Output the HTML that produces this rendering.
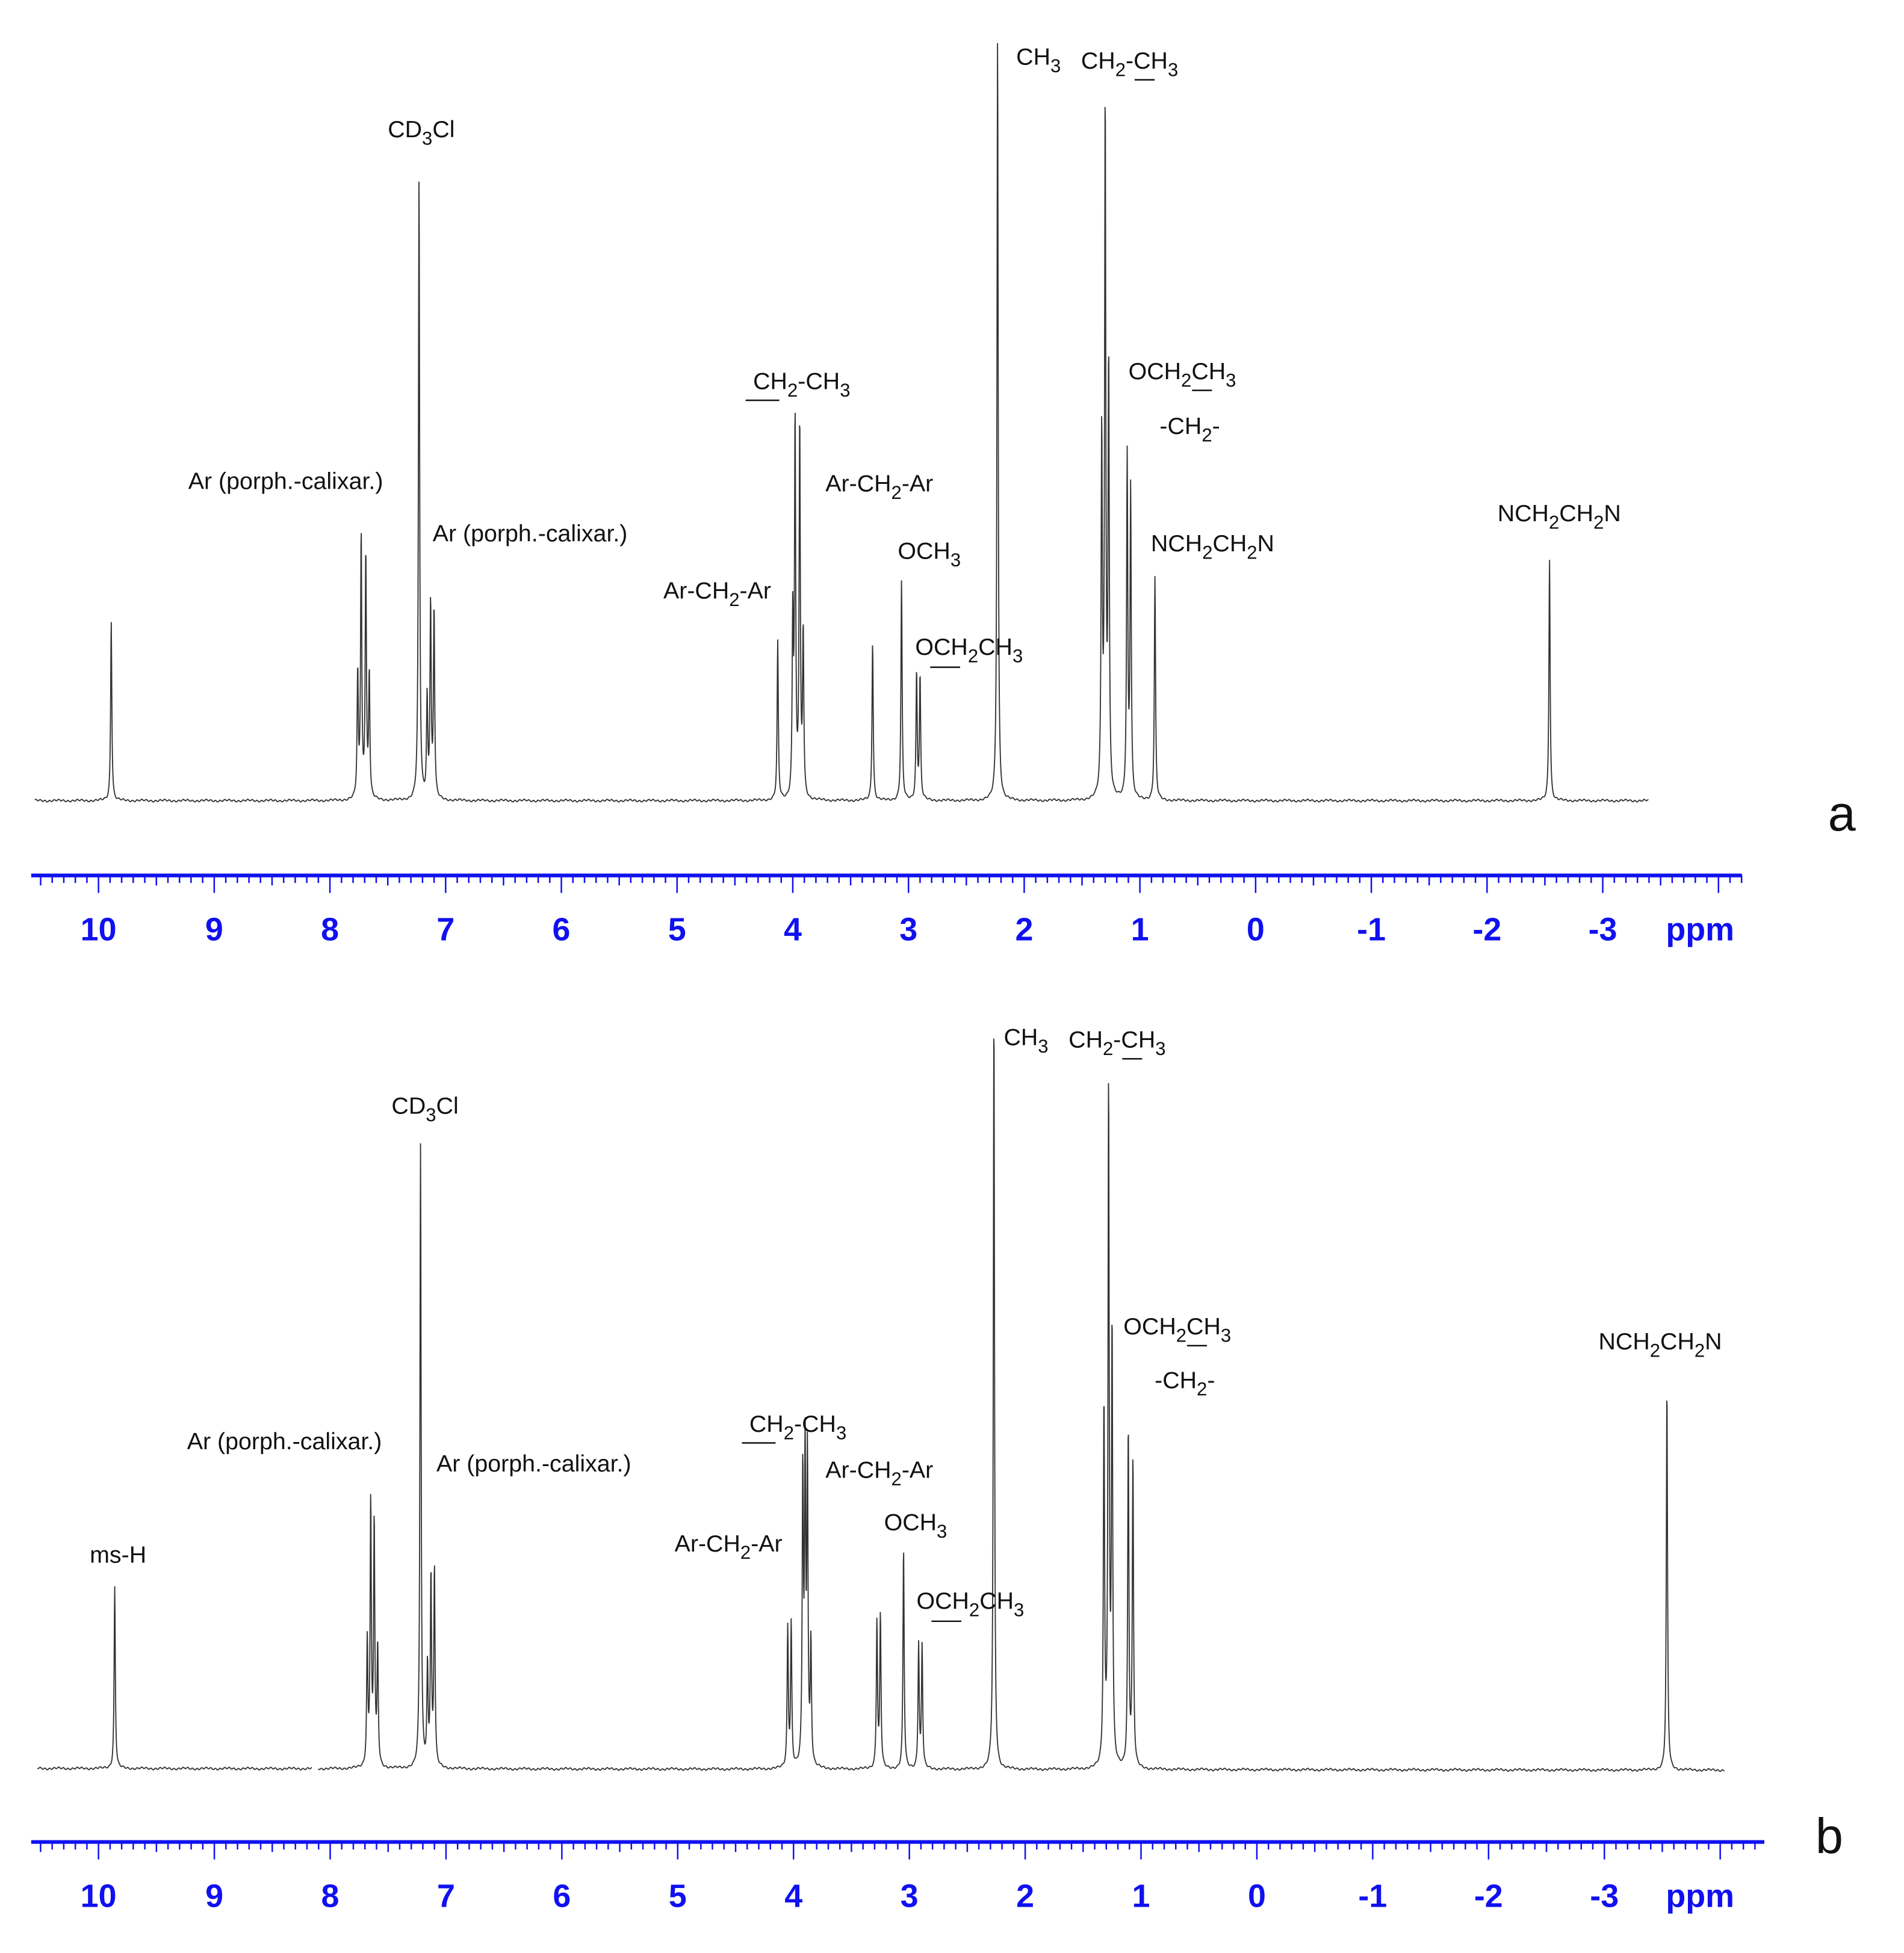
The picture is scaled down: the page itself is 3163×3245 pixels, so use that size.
<!DOCTYPE html>
<html><head><meta charset="utf-8"><style>
html,body{margin:0;padding:0;background:#fff;}
svg{display:block;}
.lbl{font-family:"Liberation Sans",sans-serif;font-size:19px;fill:#111;}
.ax{font-family:"Liberation Sans",sans-serif;font-size:26px;font-weight:bold;fill:#1010f0;}
</style></head><body>
<svg id="chart" width="3163" height="3245" viewBox="0 0 1527 1566" preserveAspectRatio="none" xmlns="http://www.w3.org/2000/svg">
<g id="panelA"></g>
<g id="panelB"></g>
<g class="lbl">
<text x="311" y="110">CD<tspan dy="6" font-size="15">3</tspan><tspan dy="-6">Cl</tspan></text>
<text x="151" y="392">Ar (porph.-calixar.)</text>
<text x="347" y="434">Ar (porph.-calixar.)</text>
<text x="532" y="480">Ar-CH<tspan dy="6" font-size="15">2</tspan><tspan dy="-6">-Ar</tspan></text>
<text x="604" y="312">CH<tspan dy="6" font-size="15">2</tspan><tspan dy="-6">-CH</tspan><tspan dy="6" font-size="15">3</tspan></text>
<line x1="598" y1="321" x2="625" y2="321" stroke="#111" stroke-width="1.2"/>
<text x="662" y="394">Ar-CH<tspan dy="6" font-size="15">2</tspan><tspan dy="-6">-Ar</tspan></text>
<text x="720" y="448">OCH<tspan dy="6" font-size="15">3</tspan></text>
<text x="734" y="525">OCH<tspan dy="6" font-size="15">2</tspan><tspan dy="-6">CH</tspan><tspan dy="6" font-size="15">3</tspan></text>
<line x1="746" y1="535" x2="770" y2="535" stroke="#111" stroke-width="1.2"/>
<text x="815" y="52">CH<tspan dy="6" font-size="15">3</tspan></text>
<text x="867" y="55">CH<tspan dy="6" font-size="15">2</tspan><tspan dy="-6">-CH</tspan><tspan dy="6" font-size="15">3</tspan></text>
<line x1="910" y1="64" x2="926" y2="64" stroke="#111" stroke-width="1.2"/>
<text x="905" y="304">OCH<tspan dy="6" font-size="15">2</tspan><tspan dy="-6">CH</tspan><tspan dy="6" font-size="15">3</tspan></text>
<line x1="956" y1="313" x2="972" y2="313" stroke="#111" stroke-width="1.2"/>
<text x="930" y="348">-CH<tspan dy="6" font-size="15">2</tspan><tspan dy="-6">-</tspan></text>
<text x="923" y="442">NCH<tspan dy="6" font-size="15">2</tspan><tspan dy="-6">CH</tspan><tspan dy="6" font-size="15">2</tspan><tspan dy="-6">N</tspan></text>
<text x="1201" y="418">NCH<tspan dy="6" font-size="15">2</tspan><tspan dy="-6">CH</tspan><tspan dy="6" font-size="15">2</tspan><tspan dy="-6">N</tspan></text>
<text x="1466" y="666" font-size="40">a</text>
</g>
<g class="lbl">
<text x="72" y="1253">ms-H</text>
<text x="314" y="893">CD<tspan dy="6" font-size="15">3</tspan><tspan dy="-6">Cl</tspan></text>
<text x="150" y="1162">Ar (porph.-calixar.)</text>
<text x="350" y="1180">Ar (porph.-calixar.)</text>
<text x="601" y="1148">CH<tspan dy="6" font-size="15">2</tspan><tspan dy="-6">-CH</tspan><tspan dy="6" font-size="15">3</tspan></text>
<line x1="595" y1="1157" x2="622" y2="1157" stroke="#111" stroke-width="1.2"/>
<text x="662" y="1185">Ar-CH<tspan dy="6" font-size="15">2</tspan><tspan dy="-6">-Ar</tspan></text>
<text x="541" y="1244">Ar-CH<tspan dy="6" font-size="15">2</tspan><tspan dy="-6">-Ar</tspan></text>
<text x="709" y="1227">OCH<tspan dy="6" font-size="15">3</tspan></text>
<text x="735" y="1290">OCH<tspan dy="6" font-size="15">2</tspan><tspan dy="-6">CH</tspan><tspan dy="6" font-size="15">3</tspan></text>
<line x1="747" y1="1300" x2="771" y2="1300" stroke="#111" stroke-width="1.2"/>
<text x="805" y="838">CH<tspan dy="6" font-size="15">3</tspan></text>
<text x="857" y="840">CH<tspan dy="6" font-size="15">2</tspan><tspan dy="-6">-CH</tspan><tspan dy="6" font-size="15">3</tspan></text>
<line x1="900" y1="849" x2="916" y2="849" stroke="#111" stroke-width="1.2"/>
<text x="901" y="1070">OCH<tspan dy="6" font-size="15">2</tspan><tspan dy="-6">CH</tspan><tspan dy="6" font-size="15">3</tspan></text>
<line x1="952" y1="1079" x2="968" y2="1079" stroke="#111" stroke-width="1.2"/>
<text x="926" y="1113">-CH<tspan dy="6" font-size="15">2</tspan><tspan dy="-6">-</tspan></text>
<text x="1282" y="1082">NCH<tspan dy="6" font-size="15">2</tspan><tspan dy="-6">CH</tspan><tspan dy="6" font-size="15">2</tspan><tspan dy="-6">N</tspan></text>
<text x="1456" y="1486" font-size="40">b</text>
</g>
</svg>
<script>
const tickLabels = [10,9,8,7,6,5,4,3,2,1,0,-1,-2,-3];
const ppmA = [9.89,7.76,7.73,7.69,7.66,7.23,7.16,7.13,7.10,4.13,4.00,3.98,3.94,3.91,3.31,3.06,2.93,2.90,2.23,1.33,1.30,1.27,1.11,1.08,0.87,-2.54];
const heightA = [145,100,212,197,100,499,80,157,152,127,142,300,300,132,128,176,102,99,614,290,552,345,274,247,179,195];
const ppmB = [9.86,7.68,7.65,7.62,7.59,7.22,7.16,7.13,7.10,4.05,4.02,3.92,3.90,3.88,3.85,3.28,3.25,3.05,2.92,2.89,2.27,1.32,1.28,1.25,1.11,1.07,-3.54];
const heightB = [146,100,211,196,95,500,80,153,160,112,115,233,243,243,98,118,123,178,100,98,611,290,544,348,273,248,308];
const svgNS = "http://www.w3.org/2000/svg";
function buildPanel(g, ppm, hts, cfg){
  const xOf = p => cfg.x10 + (10 - p) * cfg.step;
  const yOf = h => cfg.base - h;
  let d = "";
  for (let x = cfg.xs; x <= cfg.xe; x += 0.25){
    if (cfg.gap && x > cfg.gap[0] && x < cfg.gap[1]) { continue; }
    const p = 10 - (x - cfg.x10) / cfg.step;
    let s = 0;
    for (let i = 0; i < ppm.length; i++){
      const dx = (p - ppm[i]) / 0.006;
      s += hts[i] / (1 + dx*dx);
    }
    const noise = Math.sin(x*1.7)*0.6 + Math.sin(x*0.37)*0.5;
    const y = yOf(s) + noise + (x - cfg.xs) * cfg.slope;
    d += (d === "" || (cfg.gap && Math.abs(x - cfg.gap[1]) < 0.3) ? "M" : "L") + x.toFixed(2) + " " + y.toFixed(2) + " ";
  }
  const path = document.createElementNS(svgNS, "path");
  
  
  path.setAttribute("d", d);
  path.setAttribute("fill", "none");
  path.setAttribute("stroke", "#333");
  path.setAttribute("stroke-width", "0.9");
  g.appendChild(path);
  const axis = document.createElementNS(svgNS, "g");
  
  
  g.appendChild(axis);
  const ln = document.createElementNS(svgNS, "line");
  
  
  ln.setAttribute("x1", cfg.axStart); ln.setAttribute("x2", cfg.axEnd);
  ln.setAttribute("y1", cfg.axY); ln.setAttribute("y2", cfg.axY);
  ln.setAttribute("stroke", "#1010f0"); ln.setAttribute("stroke-width", "3");
  axis.appendChild(ln);
  for (let k = 0; ; k++){
    const p = 10.5 - k * 0.1;
    const x = xOf(p);
    if (x > cfg.axEnd + 0.5) break;
    if (x < cfg.axStart) continue;
    const major = Math.abs(p - Math.round(p)) < 0.01;
    const half = Math.abs(p*2 - Math.round(p*2)) < 0.01;
    const t = document.createElementNS(svgNS, "line");
    
    
    t.setAttribute("x1", x); t.setAttribute("x2", x);
    t.setAttribute("y1", cfg.axY);
    t.setAttribute("y2", cfg.axY + (major ? 14 : (half ? 8 : 6)));
    t.setAttribute("stroke", "#1010f0"); t.setAttribute("stroke-width", "1.2");
    axis.appendChild(t);
  }
  tickLabels.forEach(v => {
    const tx = document.createElementNS(svgNS, "text");
    
    
    tx.setAttribute("x", xOf(v)); tx.setAttribute("y", cfg.axY + 52);
    tx.setAttribute("text-anchor", "middle");
    tx.setAttribute("class", "ax");
    tx.textContent = String(v);
    axis.appendChild(tx);
  });
  const u = document.createElementNS(svgNS, "text");
  
  
  u.setAttribute("x", cfg.ppmX); u.setAttribute("y", cfg.axY + 52);
  u.setAttribute("class", "ax");
  u.textContent = "ppm";
  axis.appendChild(u);
}
buildPanel(document.getElementById("panelA"), ppmA, heightA,
  {x10:79, step:92.8, base:642, xs:28, xe:1322, slope:0, axY:702, axStart:25, axEnd:1397, ppmX:1336});
buildPanel(document.getElementById("panelB"), ppmB, heightB,
  {x10:79, step:92.9, base:1418, xs:30, xe:1383, slope:0.001, gap:[250,255], axY:1477, axStart:25, axEnd:1415, ppmX:1336});
</script>
</body></html>
